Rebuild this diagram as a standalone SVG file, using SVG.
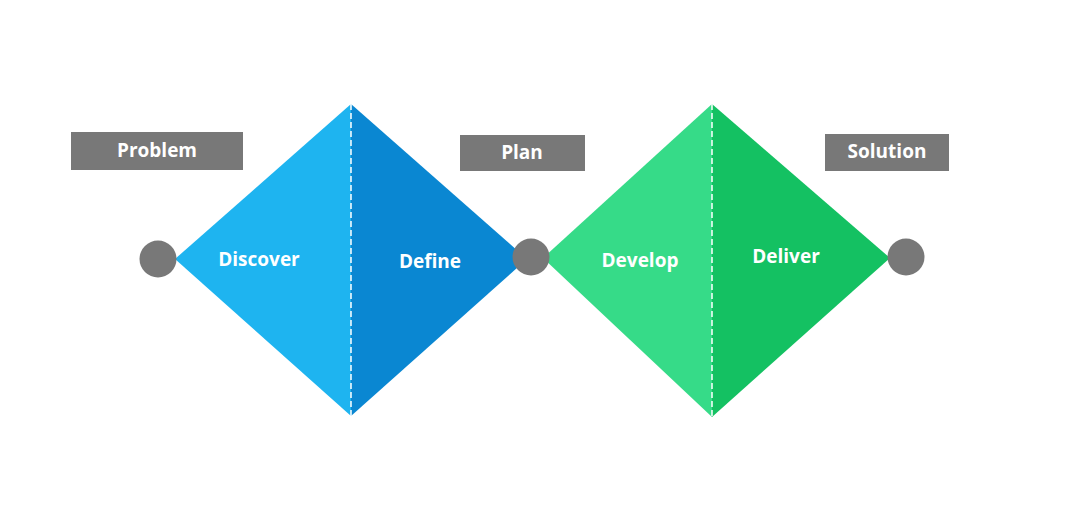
<svg xmlns="http://www.w3.org/2000/svg" width="1087" height="530" viewBox="0 0 1087 530">
<style>
.lbl{font-family:"Open Sans","Liberation Sans",sans-serif;font-weight:bold;font-size:19px;fill:#fff;text-anchor:middle;dominant-baseline:central}
.box{fill:#787878}
.dot{fill:#787878}
.dash{stroke:#fff;stroke-width:1.5;stroke-dasharray:6 3;fill:none}
</style>
<rect width="1087" height="530" fill="#fff"/>
<g id="discover"><polygon points="175,259 351,104 351,416" fill="#1EB4F0"/><text class="lbl" x="259" y="259">Discover</text></g>
<g id="define"><polygon points="351,104 527,259 351,416" fill="#0A87D2"/><text class="lbl" x="430" y="261">Define</text></g>
<g id="develop"><polygon points="543,258 712,104 712,417" fill="#36DB88"/><text class="lbl" x="640" y="260">Develop</text></g>
<g id="deliver"><polygon points="712,104 890,258 712,417" fill="#14C162"/><text class="lbl" x="786" y="256">Deliver</text></g>
<g id="connectors"><line class="dash" x1="351" y1="104" x2="351" y2="416"/><line class="dash" x1="712" y1="104" x2="712" y2="417"/></g>
<g id="start"><circle class="dot" cx="158" cy="259" r="18.5"/></g>
<g id="mid"><circle class="dot" cx="531" cy="257" r="18.5"/></g>
<g id="end"><circle class="dot" cx="906" cy="257" r="18.5"/></g>
<g id="problem"><rect class="box" x="71" y="132" width="172" height="38"/><text class="lbl" x="157" y="150">Problem</text></g>
<g id="plan"><rect class="box" x="460" y="135" width="125" height="36"/><text class="lbl" x="522" y="152">Plan</text></g>
<g id="solution"><rect class="box" x="825" y="134" width="124" height="37"/><text class="lbl" x="887" y="151">Solution</text></g>
</svg>
